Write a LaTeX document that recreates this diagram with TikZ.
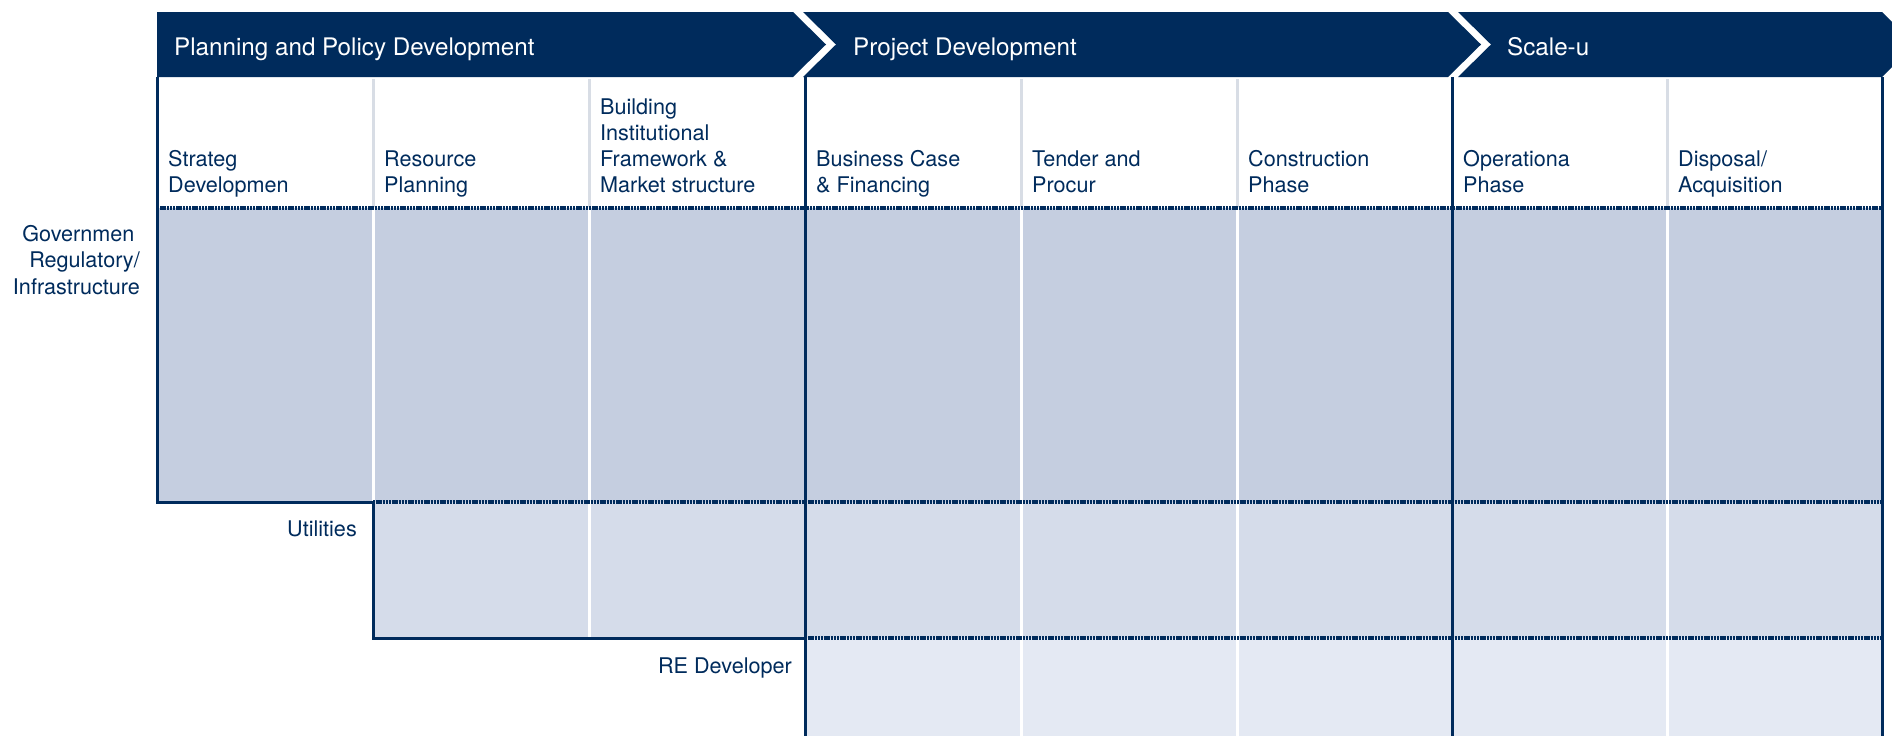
\documentclass[tikz,border=0pt]{standalone}
\usepackage{fontspec}
\setmainfont{TeX Gyre Heros}
\definecolor{navy}{HTML}{002B5C}
\definecolor{govfill}{HTML}{C5CEE0}
\definecolor{utilfill}{HTML}{D5DCEA}
\definecolor{refill}{HTML}{E4E9F3}
\definecolor{sepgray}{HTML}{D8DDE5}
\tikzset{
  banner/.style={fill=navy, draw=none},
  bannertext/.style={anchor=base west, inner sep=0pt, text=white, font=\fontsize{24.2}{29}\selectfont},
  colhead/.style={anchor=base west, inner sep=0pt, text=navy, font=\fontsize{21.6}{26}\selectfont},
  rowlabel/.style={anchor=base east, inner sep=0pt, text=navy, font=\fontsize{21.6}{26.5}\selectfont},
  navyline/.style={draw=navy, line width=3pt},
  dotline/.style={draw=navy, line width=3.2pt, dash pattern=on 2.4pt off 0.8pt},
  whitesep/.style={draw=white, line width=3pt},
  graysep/.style={draw=sepgray, line width=3pt},
}
\newcommand{\lines}[2][l]{\begin{tabular}[b]{@{}#1@{}}#2\end{tabular}}
\newcommand{\linest}[2][r]{\begin{tabular}[t]{@{}#1@{}}#2\end{tabular}}
\begin{document}
\begin{tikzpicture}[x=1pt,y=-1pt]
\useasboundingbox (0,0) rectangle (1892,736);
\begin{scope}
\clip (0,0) rectangle (1892,736);
% row fills
\fill[govfill] (157,208) rectangle (1882,502);
\fill[utilfill] (373,502) rectangle (1882,638);
\fill[refill] (805,638) rectangle (1882,736);
% white separators inside fills
\draw[whitesep] (373,208) -- (373,502);
\draw[whitesep] (589,208) -- (589,638);
\foreach \x in {1021,1237,1667} \draw[whitesep] (\x,208) -- (\x,736);
% gray separators in header
\foreach \x in {373,589,1021,1237,1667} \draw[graysep] (\x,79) -- (\x,207);
% dotted lines
\draw[dotline] (157,208) -- (1882,208);
\draw[dotline] (373,502) -- (1882,502);
\draw[dotline] (805,638) -- (1882,638);
% solid navy lines
\draw[navyline] (157,77) -- (157,502) -- (373,502) -- (373,638) -- (805,638);
\foreach \x in {805,1452,1882} \draw[navyline] (\x,77) -- (\x,736);
% banners
\fill[banner] (157,12) -- (793,12) -- (826,44.5) -- (793,77) -- (157,77) -- cycle;
\fill[banner] (803,12) -- (1448,12) -- (1481,44.5) -- (1448,77) -- (803,77) -- (836,44.5) -- cycle;
\fill[banner] (1458,12) -- (1882,12) -- (1915,44.5) -- (1882,77) -- (1458,77) -- (1491,44.5) -- cycle;
\end{scope}
% banner texts
\node[bannertext] (b1) at (174,55) {Planning and Policy Development};
\node[bannertext] (b2) at (853,55) {Project Development};
\node[bannertext] (b3) at (1507,55) {Scale-u};
% column headers
\node[colhead] (h0) at (168,192) {\lines{Strateg\\Developmen}};
\node[colhead] (h1) at (384,192) {\lines{Resource\\Planning}};
\node[colhead] (h2) at (600,192) {\lines{Building\\Institutional\\Framework \&\\Market structure}};
\node[colhead] (h3) at (816,192) {\lines{Business Case\\\& Financing}};
\node[colhead] (h4) at (1032,192) {\lines{Tender and\\Procur}};
\node[colhead] (h5) at (1248,192) {\lines{Construction\\Phase}};
\node[colhead] (h6) at (1463,192) {\lines{Operationa\\Phase}};
\node[colhead] (h7) at (1678,192) {\lines{Disposal/\\Acquisition}};
% row labels
\node[rowlabel] (r1) at (140,241) {\linest{Governmen\hspace*{0.25em}\\Regulatory/\\Infrastructure}};
\node[rowlabel] (r2) at (357,536) {Utilities};
\node[rowlabel] (r3) at (792,673) {RE Developer};
\end{tikzpicture}
\end{document}
